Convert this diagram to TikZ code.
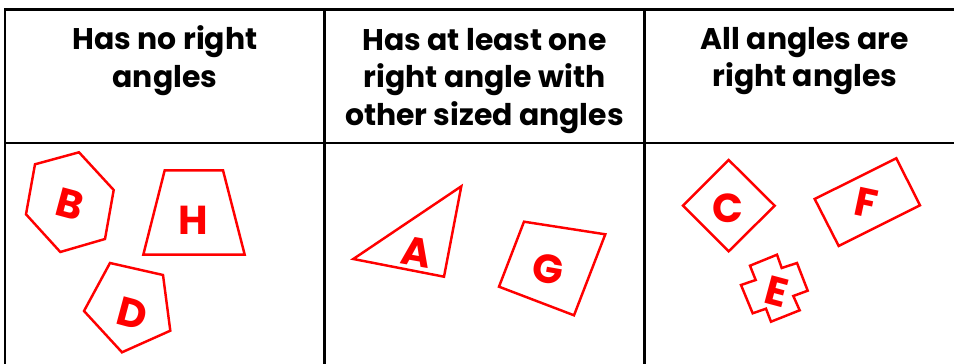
\documentclass[tikz,border=0pt]{standalone}
\usepackage{fontspec}
\setmainfont{Poppins}
\usepackage{xcolor}
\usetikzlibrary{positioning}

\begin{document}
\begin{tikzpicture}[
  x=0.02cm, y=-0.02cm,
  every node/.style={align=center},
  grid/.style={black, line width=1.7pt},
  head/.style={font=\fontsize{17}{21.5}\selectfont\bfseries},
  poly/.style={red, line width=1.4pt, line join=miter},
  letter/.style={red, font=\fontsize{23}{24}\selectfont\bfseries, inner sep=0pt},
]

\useasboundingbox (0,0) rectangle (954,364);

% table
\draw[grid] (954,9.5) -- (5,9.5) -- (5,364);
\draw[grid] (324.5,9.5) -- (324.5,364);
\draw[grid] (644.5,9.5) -- (644.5,364);
\draw[grid] (5,143) -- (954,143);

\node[head] (none) at (165,61) {Has no right\\angles};
\node[head] (some) at (484.5,81) {Has at least one\\right angle with\\other sized angles};
\node[head] (all) at (805,61) {All angles are\\right angles};

% no right angles
\draw[poly] (35,164.3) -- (79,152.3) -- (113.7,190) -- (105,239) -- (60.3,252) -- (26,214.3) -- cycle;
\node[letter, rotate=-15] (B) at (70,204) {B};
\draw[poly] (164.7,170.3) -- (223,170.3) -- (244.7,254.7) -- (143.3,254.7) -- cycle;
\node[letter] (H) at (193.3,220) {H};
\draw[poly] (110,263) -- (163,275) -- (170.3,330.7) -- (122,352.3) -- (84,311) -- cycle;
\node[letter, rotate=-15] (D) at (132.3,313.3) {D};

% at least one right angle
\draw[poly] (461.3,186.3) -- (444,276.7) -- (353.3,259) -- cycle;
\node[letter, rotate=-10] (A) at (416.7,251.7) {A};
\draw[poly] (524,221.7) -- (605.3,234.3) -- (574,315.3) -- (499,286.7) -- cycle;
\node[letter, rotate=-10] (G) at (548.3,269.3) {G};

% all right angles
\draw[poly] (728.7,160) -- (774.7,205.7) -- (728.7,251.3) -- (683,205.7) -- cycle;
\node[letter] (C) at (728.3,208.3) {C};
\draw[poly] (814.7,199) -- (896.3,158.3) -- (920,205.3) -- (838.7,246) -- cycle;
\node[letter, rotate=-12] (F) at (866.7,203.3) {F};
\draw[poly] (750,265.7) -- (777,254.7) -- (781.7,268) -- (797,263) -- (807.7,290.7)
  -- (793.3,296) -- (799.7,310.3) -- (771,321.7) -- (766,308.7) -- (752.7,313.3)
  -- (741,285) -- (755.7,280) -- cycle;
\node[letter, rotate=-15] (E) at (776.7,291.7) {E};

\end{tikzpicture}
\end{document}
